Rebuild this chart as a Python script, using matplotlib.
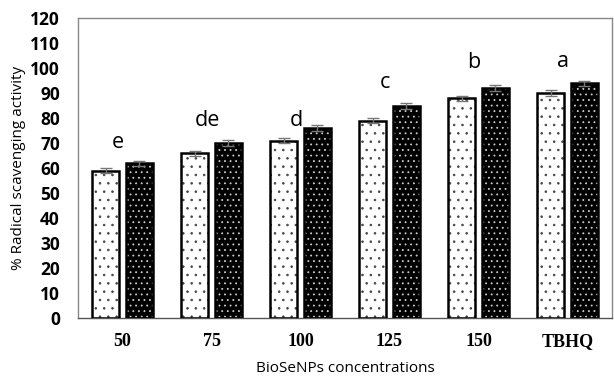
import matplotlib
matplotlib.use("Agg")
import matplotlib.pyplot as plt
import numpy as np

categories = ["50", "75", "100", "125", "150", "TBHQ"]
light_values = [59, 66, 71, 79, 88, 90]
dark_values = [62, 70, 76, 85, 92, 94]
light_err = [1.0, 1.0, 1.0, 1.0, 1.0, 1.2]
dark_err = [1.0, 1.2, 1.2, 1.2, 1.2, 1.0]
letters = ["e", "de", "d", "c", "b", "a"]
letter_y = [70, 79, 79, 94, 102, 102.5]

plt.rcParams["hatch.linewidth"] = 0.6

fig = plt.figure(figsize=(6.14, 3.78), dpi=100)
ax = fig.add_axes([78 / 614, 60 / 378, 534 / 614, 300 / 378])

x = np.arange(len(categories))
w = 0.31
off = 0.19

# light bars: white fill, black dots
ax.bar(x - off, light_values, w, color="white", edgecolor="#444444", hatch="..", linewidth=0, zorder=2)
ax.bar(x - off, light_values, w, color="none", edgecolor="black", linewidth=1.8, zorder=3)

# dark bars: black fill, white dots
ax.bar(x + off, dark_values, w, color="black", edgecolor="#cccccc", hatch="...", linewidth=0, zorder=2)
ax.bar(x + off, dark_values, w, color="none", edgecolor="black", linewidth=1.8, zorder=3)

ax.errorbar(x - off, light_values, yerr=light_err, fmt="none", ecolor="#777777",
            elinewidth=1, capsize=4, capthick=1, zorder=4)
ax.errorbar(x + off, dark_values, yerr=dark_err, fmt="none", ecolor="#777777",
            elinewidth=1, capsize=4, capthick=1, zorder=4)

for i, (lab, ly) in enumerate(zip(letters, letter_y)):
    ax.text(x[i] - 0.05, ly, lab, ha="center", va="center", fontsize=15.5, family="Open Sans")

ax.set_xlim(-0.5, len(categories) - 0.5)
ax.set_ylim(0, 120)
ax.set_yticks(np.arange(0, 121, 10))
ax.set_xticks(x)
ax.set_xticklabels(categories, fontweight="bold", family="Liberation Serif", fontsize=13)
for t in ax.get_yticklabels():
    t.set_fontweight("bold")
    t.set_family("Open Sans")
    t.set_fontsize(12.5)
ax.tick_params(axis="y", length=0, pad=13)
ax.tick_params(axis="x", length=0, pad=11)

for side in ["left", "top", "right"]:
    ax.spines[side].set_color("#888888")
    ax.spines[side].set_linewidth(1)
ax.spines["bottom"].set_color("#555555")
ax.spines["bottom"].set_linewidth(1)

ax.set_xlabel("BioSeNPs concentrations", family="Open Sans", fontsize=11, labelpad=8)
ax.set_ylabel("% Radical scavenging activity", family="Open Sans", fontsize=11, labelpad=3)

fig.savefig("out.png", dpi=100)
